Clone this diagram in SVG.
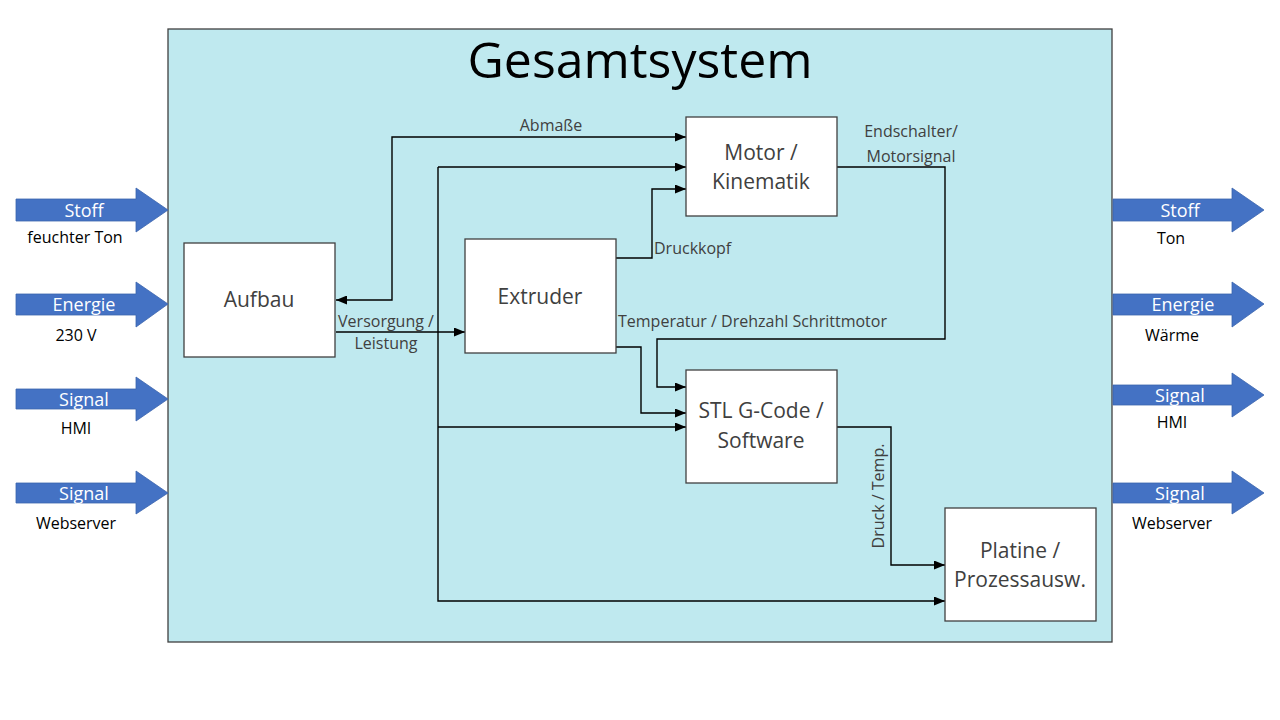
<svg xmlns="http://www.w3.org/2000/svg" width="1280" height="720" viewBox="0 0 1280 720">
<style>
text{font-family:"Open Sans","Liberation Sans",sans-serif}
.node rect{fill:#fff;stroke:#404040;stroke-width:1.3}
.nt{font-size:21px;fill:#404040;text-anchor:middle}
.cl{font-size:16px;fill:#404040}
.io{fill:#4472C4;stroke:#3b64ad;stroke-width:0.8}
.iot{font-size:18px;fill:#fff;text-anchor:middle}
.iol{font-size:16px;fill:#000;text-anchor:middle}
.conn path{fill:none;stroke:#000;stroke-width:1.4}
</style>
<defs>
<marker id="ah" markerUnits="userSpaceOnUse" markerWidth="11" markerHeight="9" viewBox="0 0 11 9" refX="11" refY="4.5" orient="auto-start-reverse">
<path d="M0,0 L11,4.5 L0,9 Z" fill="#000"/>
</marker>
</defs>
<rect width="1280" height="720" fill="#fff"/>
<g id="gesamtsystem">
<rect x="168" y="29" width="944" height="613" fill="#BFE9EF" stroke="#404040" stroke-width="1.3"/>
<text x="640" y="78" font-size="50" text-anchor="middle" fill="#000">Gesamtsystem</text>
</g>
<g id="inputs">
<g id="in-stoff"><path class="io" d="M16,199 H136 V188 L168,210 L136,232 V221 H16 Z"/><text class="iot" x="84" y="217">Stoff</text><text class="iol" x="75" y="243">feuchter Ton</text></g>
<g id="in-energie"><path class="io" d="M16,294 H136 V282 L168,304 L136,327 V315 H16 Z"/><text class="iot" x="84" y="311">Energie</text><text class="iol" x="76" y="341">230 V</text></g>
<g id="in-signal-hmi"><path class="io" d="M16,389 H136 V377 L168,399 L136,421 V409 H16 Z"/><text class="iot" x="84" y="406">Signal</text><text class="iol" x="76" y="434">HMI</text></g>
<g id="in-signal-web"><path class="io" d="M16,483 H136 V471 L168,493 L136,514 V503 H16 Z"/><text class="iot" x="84" y="500">Signal</text><text class="iol" x="76" y="529">Webserver</text></g>
</g>
<g id="outputs">
<g id="out-stoff"><path class="io" d="M1113,199 H1232 V188 L1264,210 L1232,232 V221 H1113 Z"/><text class="iot" x="1180" y="217">Stoff</text><text class="iol" x="1171" y="244">Ton</text></g>
<g id="out-energie"><path class="io" d="M1113,294 H1232 V282 L1264,304 L1232,327 V315 H1113 Z"/><text class="iot" x="1183" y="311">Energie</text><text class="iol" x="1172" y="341">Wärme</text></g>
<g id="out-signal-hmi"><path class="io" d="M1113,385 H1232 V373 L1264,395 L1232,417 V405 H1113 Z"/><text class="iot" x="1180" y="402">Signal</text><text class="iol" x="1172" y="428">HMI</text></g>
<g id="out-signal-web"><path class="io" d="M1113,483 H1232 V471 L1264,493 L1232,514 V503 H1113 Z"/><text class="iot" x="1180" y="500">Signal</text><text class="iol" x="1172" y="529">Webserver</text></g>
</g>
<g id="connectors" class="conn">
<path d="M336,300 H392 V137 H686" marker-start="url(#ah)" marker-end="url(#ah)"/>
<path d="M336,332 H465" marker-end="url(#ah)"/>
<path d="M438,167 H686" marker-end="url(#ah)"/>
<path d="M438,167 V601 H945" marker-end="url(#ah)"/>
<path d="M438,427 H686" marker-end="url(#ah)"/>
<path d="M616,258 H652 V189 H686" marker-end="url(#ah)"/>
<path d="M616,347 H641 V413 H686" marker-end="url(#ah)"/>
<path d="M837,167 H945 V339 H657 V387 H686" marker-end="url(#ah)"/>
<path d="M837,427 H891 V565 H945" marker-end="url(#ah)"/>
</g>
<g id="connector-labels">
<text class="cl" x="551" y="131" text-anchor="middle">Abmaße</text>
<text class="cl" x="386" y="327" text-anchor="middle">Versorgung /</text>
<text class="cl" x="386" y="349" text-anchor="middle">Leistung</text>
<text class="cl" x="654" y="254">Druckkopf</text>
<text class="cl" x="911" y="137" text-anchor="middle">Endschalter/</text>
<text class="cl" x="911" y="162" text-anchor="middle">Motorsignal</text>
<text class="cl" x="618" y="327">Temperatur / Drehzahl Schrittmotor</text>
<text class="cl" x="884" y="496" text-anchor="middle" transform="rotate(-90 884 496)">Druck / Temp.</text>
</g>
<g id="aufbau" class="node"><rect x="184" y="243" width="151" height="114"/><text class="nt" x="259" y="307">Aufbau</text></g>
<g id="extruder" class="node"><rect x="465" y="239" width="151" height="114"/><text class="nt" x="540" y="304">Extruder</text></g>
<g id="motor" class="node"><rect x="686" y="117" width="151" height="99"/><text class="nt" x="761" y="160">Motor /</text><text class="nt" x="761" y="189">Kinematik</text></g>
<g id="stl" class="node"><rect x="686" y="370" width="151" height="113"/><text class="nt" x="761" y="418">STL G-Code /</text><text class="nt" x="761" y="448">Software</text></g>
<g id="platine" class="node"><rect x="945" y="508" width="151" height="113"/><text class="nt" x="1020" y="558">Platine /</text><text class="nt" x="1020" y="587">Prozessausw.</text></g>
</svg>
